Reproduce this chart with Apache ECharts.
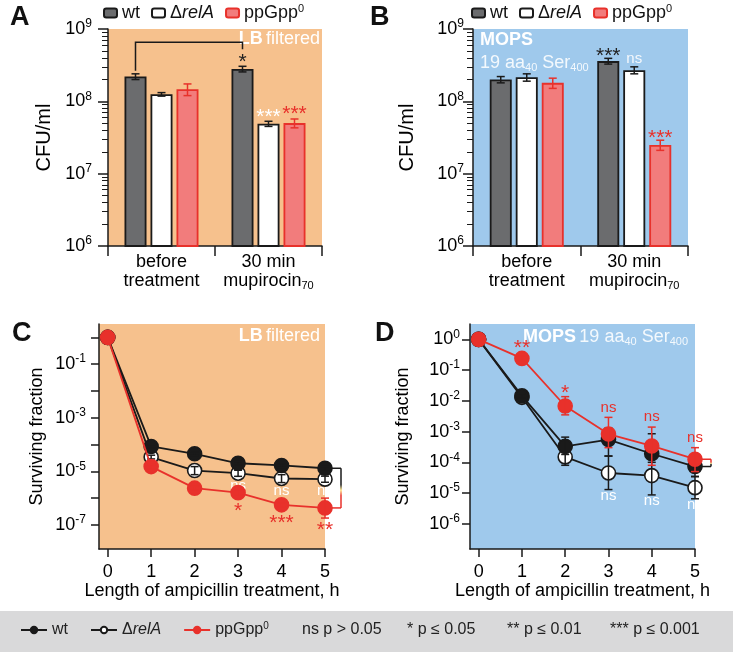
<!DOCTYPE html>
<html><head><meta charset="utf-8">
<script src="https://cdn.jsdelivr.net/npm/echarts@6/dist/echarts.min.js"></script>
<style>html,body{margin:0;padding:0;background:#fff}#c{width:733px;height:652px}</style>
</head><body><div id="c"></div>
<script>
// ---------------- DATA ----------------
const strains = ['wt', 'ΔrelA', 'ppGpp0'];
const barCategories = ['before\ntreatment', '30 min\nmupirocin_70'];
// Panel A (LB filtered) CFU/ml
const aWt = [2.2e8, 2.8e8];
const aWtErr = [0.2e8, 0.25e8];
const aRelA = [1.25e8, 4.9e7];
const aRelAErr = [0.07e8, 0.4e7];
const aPpGpp = [1.47e8, 5.0e7];
const aPpGppErr = [0.27e8, 0.7e7];
const aSigWt = ['', '*'];
const aSigRelA = ['', '***'];
const aSigPpGpp = ['', '***'];
// Panel B (MOPS 19 aa40 Ser400) CFU/ml
const bWt = [2.0e8, 3.6e8];
const bWtErr = [0.2e8, 0.33e8];
const bRelA = [2.15e8, 2.7e8];
const bRelAErr = [0.25e8, 0.3e8];
const bPpGpp = [1.8e8, 2.5e7];
const bPpGppErr = [0.29e8, 0.4e7];
const bSigWt = ['', '***'];
const bSigRelA = ['', 'ns'];
const bSigPpGpp = ['', '***'];
// Panels C and D: surviving fraction vs hours of ampicillin
const hours = [0, 1, 2, 3, 4, 5];
const cWt = [1, 8.5e-5, 4.5e-5, 2.0e-5, 1.66e-5, 1.3e-5];
const cWtLo = [1, 7.4e-5, 3.9e-5, 1.7e-5, 1.4e-5, 1.1e-5];
const cWtHi = [1, 9.8e-5, 5.2e-5, 2.3e-5, 1.9e-5, 1.5e-5];
const cRelA = [1, 3.4e-5, 1.07e-5, 8.5e-6, 5.4e-6, 5.1e-6];
const cRelALo = [1, 2.9e-5, 0.75e-5, 6.5e-6, 3.8e-6, 3.9e-6];
const cRelAHi = [1, 4.0e-5, 1.5e-5, 1.1e-5, 7.5e-6, 6.6e-6];
const cPpGpp = [1, 1.5e-5, 2.35e-6, 1.6e-6, 5.6e-7, 4.3e-7];
const cPpGppLo = [1, 1.2e-5, 2.0e-6, 1.3e-6, 4.7e-7, 1.8e-7];
const cPpGppHi = [1, 1.8e-5, 2.8e-6, 2.0e-6, 6.6e-7, 1.0e-6];
const cSigRelA = ['', '', '', 'ns', 'ns', 'ns'];
const cSigPpGpp = ['', '', '', '*', '***', '**'];
const dWt = [1, 1.45e-2, 3.3e-4, 5.5e-4, 1.9e-4, 7.3e-5];
const dWtLo = [1, 1.25e-2, 1.8e-4, 1.6e-4, 1.0e-4, 3.4e-5];
const dWtHi = [1, 1.7e-2, 6.6e-4, 1.3e-3, 8.5e-4, 1.2e-4];
const dRelA = [1, 1.3e-2, 1.5e-4, 4.5e-5, 3.7e-5, 1.5e-5];
const dRelALo = [1, 1.1e-2, 8.0e-5, 1.3e-5, 8.7e-6, 6.5e-6];
const dRelAHi = [1, 1.5e-2, 2.3e-4, 1.6e-4, 1.3e-4, 3.5e-5];
const dPpGpp = [1, 0.24, 6.8e-3, 8.3e-4, 3.4e-4, 1.26e-4];
const dPpGppLo = [1, 0.2, 3.5e-3, 3.0e-4, 8.0e-5, 5.0e-5];
const dPpGppHi = [1, 0.29, 1.37e-2, 2.9e-3, 1.4e-3, 3.0e-4];
const dSigPpGpp = ['', '**', '*', 'ns', 'ns', 'ns'];
const dSigRelA = ['', '', '', 'ns', 'ns', 'ns'];
// axis ticks (exponents of 10)
const barMajor = [6, 7, 8, 9];
const cTicks = [0, -1, -2, -3, -4, -5, -6, -7];
const cLabels = [-1, -3, -5, -7];
const dTicks = [0, -1, -2, -3, -4, -5, -6];
const sigLegend = ['ns p > 0.05', '* p ≤ 0.05', '** p ≤ 0.01', '*** p ≤ 0.001'];

// ---------------- STYLE ----------------
const FF = '"Liberation Sans", Arial, Helvetica, sans-serif';
const L = Math.log10;
const C_ORANGE = '#f6c18d', C_BLUE = '#9fc9ec', C_RED = '#e8312b', C_BLACK = '#1a1a1a';
const C_GRAY = '#6b6c6e', C_PINK = '#f27c7c';
const BAR_W = 22, BAR_GAP = 4;
const barMinor = [];
for (let n = 6; n < 9; n++) for (let k = 2; k <= 9; k++) barMinor.push(n + L(k));

const supRich = {
  b: { fontSize: 18, fontFamily: FF, color: '#000' },
  s: { fontSize: 12, fontFamily: FF, color: '#000', padding: [0, 0, 10, 0] }
};
const supFmt = v => '{b|10}{s|' + Math.round(v) + '}';
const catRich = {
  n: { fontSize: 18, fontFamily: FF, color: '#000', lineHeight: 19 },
  sub: { fontSize: 11, fontFamily: FF, color: '#000', padding: [9, 0, 0, 0], lineHeight: 19 }
};
const catFmt = v => v.split('\n').map(line => {
  const p = line.split('_');
  return '{n|' + p[0] + '}' + (p[1] ? '{sub|' + p[1] + '}' : '');
}).join('\n');
const nameRich = {
  n: { fontSize: 18, fontFamily: FF, color: '#111' },
  i: { fontSize: 18, fontFamily: FF, color: '#111', fontStyle: 'italic' },
  sup: { fontSize: 11, fontFamily: FF, color: '#111', padding: [0, 0, 9, 0] }
};
const strainFmt = name => {
  if (name.indexOf('wt') === 0) return '{n|wt}';
  if (name.indexOf('relA') >= 0) return '{n|Δ}{i|relA}';
  return '{n|ppGpp}{sup|0}';
};
const lineFmt = name => {
  if (name === 'wt-line') return '{n|wt}';
  if (name === 'relA-line') return '{n|Δ}{i|relA}';
  return '{n|ppGpp}{sup|0}';
};
const smallRich = {
  n: { fontSize: 16, fontFamily: FF, color: '#222' },
  i: { fontSize: 16, fontFamily: FF, color: '#222', fontStyle: 'italic' },
  sup: { fontSize: 10, fontFamily: FF, color: '#222', padding: [0, 0, 8, 0] }
};

function lineSeg(x1, y1, x2, y2, color, w) {
  return { type: 'line', shape: { x1, y1, x2, y2 }, style: { stroke: color, lineWidth: w || 1.5 } };
}
function sigText(s, x, G, color) {
  const star = s.indexOf('*') >= 0;
  const fs = star ? 21 : 15;
  const y = star ? G + 0.22 * fs : G - 0.09 * fs;
  return { type: 'text', x, y, style: { text: s, fill: color, fontSize: fs, fontFamily: FF, align: 'center', verticalAlign: 'middle' } };
}

// ---- bar panel helpers ----
function barSeries(name, xi, yi, vals, fill, border) {
  return {
    type: 'bar', name, xAxisIndex: xi, yAxisIndex: yi, data: vals.map(L),
    barWidth: BAR_W, barGap: (BAR_GAP / BAR_W * 100) + '%', clip: true, z: 2,
    itemStyle: { color: fill, borderColor: border, borderWidth: 1.8 }, emphasis: { disabled: true }
  };
}
function barErr(xi, yi, k, vals, errs, sigs, color, sigColor, G0) {
  const off = (k - 1) * (BAR_W + BAR_GAP);
  return {
    type: 'custom', xAxisIndex: xi, yAxisIndex: yi, z: 5, silent: true,
    data: vals.map((v, i) => [i, L(v - errs[i]), L(v + errs[i])]),
    renderItem(params, api) {
      const lo = api.coord([api.value(0), api.value(1)]);
      const hi = api.coord([api.value(0), api.value(2)]);
      const x = lo[0] + off, cw = 4;
      const ch = [lineSeg(x, lo[1], x, hi[1], color), lineSeg(x - cw, lo[1], x + cw, lo[1], color), lineSeg(x - cw, hi[1], x + cw, hi[1], color)];
      const s = sigs[params.dataIndex];
      if (s) ch.push(sigText(s, x, hi[1] - G0, sigColor));
      return { type: 'group', children: ch };
    }
  };
}
// ---- line panel helpers ----
function lineSeries(name, xi, yi, vals, lineColor, fill, z) {
  return {
    type: 'line', name, xAxisIndex: xi, yAxisIndex: yi, z,
    data: hours.map((h, i) => [h, L(vals[i])]),
    symbol: 'circle', symbolSize: 14, clip: false,
    lineStyle: { color: lineColor, width: 1.8 },
    itemStyle: { color: fill, borderColor: lineColor, borderWidth: 1.6 }, emphasis: { disabled: true }
  };
}
function lineErr(xi, yi, vals, lo, hi, color, sigs, sigColor, where, z) {
  return {
    type: 'custom', xAxisIndex: xi, yAxisIndex: yi, z, silent: true, clip: false,
    data: hours.map((h, i) => [h, L(vals[i]), L(lo[i]), L(hi[i])]),
    renderItem(params, api) {
      const m = api.coord([api.value(0), api.value(1)]);
      const pl = api.coord([api.value(0), api.value(2)]);
      const ph = api.coord([api.value(0), api.value(3)]);
      const x = m[0], cw = 4, ch = [];
      if (Math.abs(pl[1] - ph[1]) > 1) {
        ch.push(lineSeg(x, pl[1], x, ph[1], color), lineSeg(x - cw, pl[1], x + cw, pl[1], color), lineSeg(x - cw, ph[1], x + cw, ph[1], color));
      }
      const s = sigs[params.dataIndex];
      if (s) {
        const G = where === 'above' ? Math.min(m[1] - 15, ph[1] - 8.5) : Math.max(m[1] + 13.5, pl[1] + 7.5);
        ch.push(sigText(s, x, G, sigColor));
      }
      return { type: 'group', children: ch };
    }
  };
}
function bracket(xi, yi, vTop, vBot, colTop, colBot) {
  return {
    type: 'custom', xAxisIndex: xi, yAxisIndex: yi, z: 6, silent: true, clip: false,
    data: [[5, L(vTop), L(vBot)]],
    renderItem(params, api) {
      const t = api.coord([api.value(0), api.value(1)]);
      const b = api.coord([api.value(0), api.value(2)]);
      const x0 = t[0] + 7, bx = t[0] + 16;
      const grad = new echarts.graphic.LinearGradient(0, 0, 0, 1, [
        { offset: 0, color: colTop }, { offset: 0.42, color: colTop }, { offset: 0.55, color: '#ffe27a' },
        { offset: 0.68, color: colBot }, { offset: 1, color: colBot }]);
      return { type: 'group', children: [
        lineSeg(x0, t[1], bx, t[1], colTop, 1.5),
        { type: 'line', shape: { x1: bx, y1: t[1], x2: bx + 0.001, y2: b[1] }, style: { stroke: grad, lineWidth: 1.5 } },
        lineSeg(x0, b[1], bx, b[1], colBot, 1.5)
      ] };
    }
  };
}

// ---- axes ----
function catAxis(gi) {
  return {
    gridIndex: gi, type: 'category', data: barCategories, position: 'bottom',
    axisLine: { onZero: false, lineStyle: { color: C_BLACK, width: 1.5 } },
    axisTick: { show: true, length: 10, alignWithLabel: false, lineStyle: { color: C_BLACK, width: 1.5 } },
    axisLabel: { formatter: catFmt, rich: catRich, margin: 7, interval: 0 },
    splitLine: { show: false }
  };
}
function hourAxis(gi) {
  return {
    gridIndex: gi, type: 'value', min: -0.2, max: 5, position: 'bottom',
    axisLine: { onZero: false, lineStyle: { color: C_BLACK, width: 1.5 } },
    axisTick: { show: true, length: 8, customValues: hours, lineStyle: { color: C_BLACK, width: 1.5 } },
    axisLabel: { customValues: hours, fontSize: 18, fontFamily: FF, color: '#000', margin: 14 },
    splitLine: { show: false },
    name: 'Length of ampicillin treatment, h', nameLocation: 'middle', nameGap: 32,
    nameTextStyle: { fontSize: 18, fontFamily: FF, color: '#000' }
  };
}
function barYAxis(gi, margin, nameGap) {
  return {
    gridIndex: gi, type: 'value', min: 6, max: 9, position: 'left',
    axisLine: { show: true, onZero: false, lineStyle: { color: C_BLACK, width: 1.5 } },
    axisTick: { show: true, length: 10, customValues: barMajor, lineStyle: { color: C_BLACK, width: 1.5 } },
    axisLabel: { customValues: barMajor, formatter: supFmt, rich: supRich, margin },
    splitLine: { show: false },
    name: 'CFU/ml', nameLocation: 'middle', nameGap,
    nameTextStyle: { fontSize: 20, fontFamily: FF, color: '#000' }
  };
}
function minorYAxis(gi) {
  return {
    gridIndex: gi, type: 'value', min: 6, max: 9, position: 'left',
    axisLine: { show: false, onZero: false }, axisLabel: { show: false }, splitLine: { show: false },
    axisTick: { show: true, length: 6, customValues: barMinor, lineStyle: { color: C_BLACK, width: 1 } }
  };
}
function fracYAxis(gi, min, ticks, labels, margin, nameGap) {
  return {
    gridIndex: gi, type: 'value', min, max: 0.5, position: 'left',
    axisLine: { show: true, onZero: false, lineStyle: { color: C_BLACK, width: 1.5 } },
    axisTick: { show: true, length: 8, customValues: ticks, lineStyle: { color: C_BLACK, width: 1.5 } },
    axisLabel: { customValues: labels, formatter: supFmt, rich: supRich, margin },
    splitLine: { show: false },
    name: 'Surviving fraction', nameLocation: 'middle', nameGap,
    nameTextStyle: { fontSize: 18, fontFamily: FF, color: '#000' }
  };
}

const gridBase = { show: true, borderWidth: 0, containLabel: false, outerBoundsMode: 'none' };
const headRich = {
  b: { fontSize: 18, fontFamily: FF, fontWeight: 'bold', fill: '#ffffff' },
  n: { fontSize: 18, fontFamily: FF, fill: '#ffffff' },
  l: { fontSize: 18, fontFamily: FF, fill: 'rgba(255,255,255,0.88)' },
  sub: { fontSize: 11, fontFamily: FF, fill: 'rgba(255,255,255,0.88)', padding: [9, 0, 0, 0] }
};
function panelLetter(t, x, y) {
  return { type: 'text', x, y, style: { text: t, fontSize: 27, fontWeight: 'bold', fontFamily: FF, fill: '#111' } };
}
const sigX = [302, 407, 507, 610];

const option = {
  animation: false,
  textStyle: { fontFamily: FF },
  grid: [
    Object.assign({ left: 108, top: 29, width: 214, height: 217, backgroundColor: C_ORANGE }, gridBase),
    Object.assign({ left: 473, top: 29, width: 215, height: 217, backgroundColor: C_BLUE }, gridBase),
    Object.assign({ left: 99, top: 324, width: 226, height: 225, backgroundColor: C_ORANGE }, gridBase),
    Object.assign({ left: 470, top: 324, width: 225, height: 225, backgroundColor: C_BLUE }, gridBase)
  ],
  xAxis: [catAxis(0), catAxis(1), hourAxis(2), hourAxis(3)],
  yAxis: [
    barYAxis(0, 16, 54), minorYAxis(0),
    barYAxis(1, 9, 56), minorYAxis(1),
    fracYAxis(2, -7.9, cTicks, cLabels, 13, 53),
    fracYAxis(3, -6.82, dTicks, dTicks, 10, 58)
  ],
  legend: [
    { data: strains, left: 98, top: -2, itemWidth: 13, itemHeight: 9, itemGap: 11, icon: 'roundRect',
      selectedMode: false, formatter: strainFmt, textStyle: { width: 45, rich: nameRich } },
    { data: strains, left: 466, top: -2, itemWidth: 13, itemHeight: 9, itemGap: 11, icon: 'roundRect',
      selectedMode: false, formatter: strainFmt, textStyle: { width: 45, rich: nameRich } },
    { data: ['wt-line', 'relA-line', 'ppGpp-line'], left: 15, top: 616, itemWidth: 26, itemHeight: 8, itemGap: 22,
      selectedMode: false, formatter: lineFmt, textStyle: { rich: smallRich } }
  ],
  graphic: [
    { type: 'rect', z: -10, shape: { x: 0, y: 611, width: 733, height: 41 }, style: { fill: '#d9d9da' } },
    panelLetter('A', 10, 4), panelLetter('B', 370, 4), panelLetter('C', 12, 320), panelLetter('D', 375, 320),
    { type: 'text', x: 320, y: 39, style: { text: '{b|LB} {n|filtered}', rich: headRich, fill: '#fff', align: 'right', verticalAlign: 'middle' } },
    { type: 'text', x: 320, y: 336, style: { text: '{b|LB} {n|filtered}', rich: headRich, fill: '#fff', align: 'right', verticalAlign: 'middle' } },
    { type: 'text', x: 480, y: 40, style: { text: '{b|MOPS}', rich: headRich, fill: '#fff', align: 'left', verticalAlign: 'middle' } },
    { type: 'text', x: 480, y: 63, style: { text: '{l|19 aa}{sub|40}{l| Ser}{sub|400}', rich: headRich, fill: '#fff', align: 'left', verticalAlign: 'middle' } },
    { type: 'text', x: 688, y: 337, style: { text: '{b|MOPS} {l|19 aa}{sub|40}{l| Ser}{sub|400}', rich: headRich, fill: '#fff', align: 'right', verticalAlign: 'middle' } }
  ].concat(sigLegend.map((t, i) => ({ type: 'text', x: sigX[i], y: 630,
    style: { text: t, fontSize: 16, fontFamily: FF, fill: '#222', align: 'left', verticalAlign: 'middle' } }))),
  series: [
    // Panel A
    barSeries(strains[0], 0, 0, aWt, C_GRAY, C_BLACK),
    barSeries(strains[1], 0, 0, aRelA, '#ffffff', C_BLACK),
    barSeries(strains[2], 0, 0, aPpGpp, C_PINK, C_RED),
    barErr(0, 0, 0, aWt, aWtErr, aSigWt, C_BLACK, '#222', 9),
    barErr(0, 0, 1, aRelA, aRelAErr, aSigRelA, C_BLACK, '#ffffff', 9),
    barErr(0, 0, 2, aPpGpp, aPpGppErr, aSigPpGpp, C_RED, C_RED, 9),
    {
      type: 'custom', xAxisIndex: 0, yAxisIndex: 0, z: 6, silent: true, clip: false,
      data: [[0, L(aWt[0] + aWtErr[0]), 1, L(aWt[1] + aWtErr[1])]],
      renderItem(params, api) {
        const off = -(BAR_W + BAR_GAP);
        const p0 = api.coord([0, api.value(1)]);
        const p1 = api.coord([1, api.value(3)]);
        const top = Math.min(p0[1], p1[1]) - 24;
        return { type: 'polyline', shape: { points: [[p0[0] + off, p0[1] - 3], [p0[0] + off, top], [p1[0] + off, top], [p1[0] + off, p1[1] - 17]] },
          style: { stroke: C_BLACK, lineWidth: 1.5, fill: null } };
      }
    },
    // Panel B
    barSeries(strains[0], 1, 2, bWt, C_GRAY, C_BLACK),
    barSeries(strains[1], 1, 2, bRelA, '#ffffff', C_BLACK),
    barSeries(strains[2], 1, 2, bPpGpp, C_PINK, C_RED),
    barErr(1, 2, 0, bWt, bWtErr, bSigWt, C_BLACK, '#222', 7),
    barErr(1, 2, 1, bRelA, bRelAErr, bSigRelA, C_BLACK, '#f4f8fc', 7),
    barErr(1, 2, 2, bPpGpp, bPpGppErr, bSigPpGpp, C_RED, C_RED, 7),
    // Panel C
    lineSeries('relA-line', 2, 4, cRelA, C_BLACK, '#ffffff', 3),
    lineErr(2, 4, cRelA, cRelALo, cRelAHi, C_BLACK, cSigRelA, '#ffffff', 'below', 4),
    lineSeries('wt-line', 2, 4, cWt, C_BLACK, C_BLACK, 5),
    lineErr(2, 4, cWt, cWtLo, cWtHi, C_BLACK, ['', '', '', '', '', ''], C_BLACK, 'above', 6),
    lineSeries('ppGpp-line', 2, 4, cPpGpp, C_RED, C_RED, 7),
    lineErr(2, 4, cPpGpp, cPpGppLo, cPpGppHi, C_RED, cSigPpGpp, C_RED, 'below', 8),
    bracket(2, 4, cWt[5], cPpGpp[5], C_BLACK, C_RED),
    // Panel D
    lineSeries('relA-line', 3, 5, dRelA, C_BLACK, '#ffffff', 3),
    lineErr(3, 5, dRelA, dRelALo, dRelAHi, C_BLACK, dSigRelA, '#ffffff', 'below', 4),
    lineSeries('wt-line', 3, 5, dWt, C_BLACK, C_BLACK, 5),
    lineErr(3, 5, dWt, dWtLo, dWtHi, C_BLACK, ['', '', '', '', '', ''], C_BLACK, 'above', 6),
    lineSeries('ppGpp-line', 3, 5, dPpGpp, C_RED, C_RED, 7),
    lineErr(3, 5, dPpGpp, dPpGppLo, dPpGppHi, C_RED, dSigPpGpp, C_RED, 'above', 8),
    bracket(3, 5, dPpGpp[5], dWt[5], C_RED, C_BLACK)
  ]
};
const chart = echarts.init(document.getElementById('c'), null, { renderer: 'canvas' });
chart.setOption(option);
</script>
</body></html>
